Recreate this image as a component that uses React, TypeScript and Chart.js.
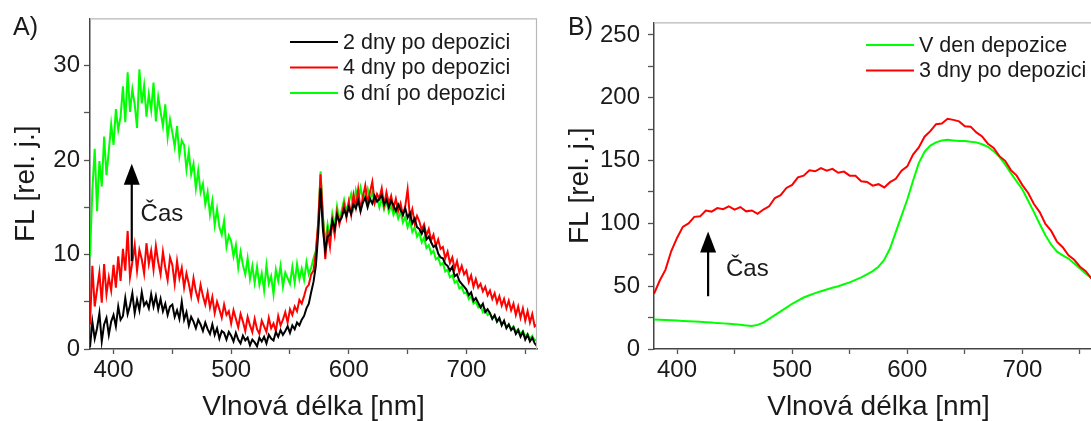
import React, { useEffect, useRef } from "react";
import { Chart, registerables } from "chart.js";

Chart.register(...registerables);

const FONT = '"Liberation Sans", Arial, Helvetica, sans-serif';

// ---------- Panel A ----------
const waveStartA = 380;
const waveStepA = 2;
const labelsA = ["2 dny po depozici", "4 dny po depozici", "6 dní po depozici"];
const colorsA = ["#000000", "#ff0000", "#00ff00"];

const dny2 = [
  0.2, 2.9, 1.1, 2.2, 3.8, 0.8, 2.6, 3.3, 1.5, 2.9,
  3.6, 2.4, 4.5, 3.1, 3.5, 5.4, 3.7, 4.6, 5.9, 3.8,
  5.2, 4.1, 6.0, 4.6, 5.0, 4.3, 5.8, 4.5, 5.6, 4.2,
  5.3, 4.0, 4.8, 3.6, 4.5, 4.7, 3.4, 4.1, 3.2, 5.0,
  3.1, 3.9, 2.5, 3.4, 2.9, 2.2, 3.1, 2.6, 1.9, 2.8,
  2.1, 1.6, 2.6, 1.5, 2.2, 1.1, 1.9, 1.7, 1.0, 1.8,
  1.4, 0.8, 1.7, 1.0, 0.6, 1.4, 0.9, 1.2, 0.4, 1.0,
  0.7, 0.3, 1.2, 0.8, 1.3, 0.6, 1.5, 1.1, 0.9, 1.8,
  1.3, 2.0, 1.5, 1.9, 2.4, 1.7, 2.5, 2.1, 2.8, 2.5,
  3.1, 3.5, 4.3, 4.8, 6.0, 7.1, 8.8, 12.2, 17.0, 12.6,
  10.4, 11.9, 12.1, 13.6, 12.7, 14.2, 13.5, 13.9, 14.8, 14.1,
  15.0, 14.3, 15.3, 14.9, 15.7, 14.6, 15.5, 16.0, 15.0, 15.9,
  15.4, 16.2, 15.6, 15.9, 16.3, 15.3, 15.8, 15.0, 15.7, 15.2,
  14.6, 15.3, 14.7, 14.2, 14.9, 13.9, 14.4, 13.3, 13.8, 12.9,
  12.7, 12.2, 12.8, 11.6, 11.9, 11.3, 10.8, 11.0, 10.1, 9.7,
  9.6, 9.0, 8.8, 8.3, 8.7, 7.7, 7.9, 7.2, 6.9, 6.6,
  6.3, 5.7, 6.0, 5.1, 5.4, 4.9, 4.4, 4.8, 3.9, 4.2,
  3.8, 3.2, 3.6, 2.9, 3.3, 2.5, 3.0, 2.2, 2.6, 2.0,
  2.3, 1.6, 2.0, 1.3, 1.8, 1.0, 1.5, 0.8, 1.2, 0.6,
  0.3,
];

const dny4 = [
  2.6, 8.8, 4.5, 6.3, 8.1, 4.9, 9.0, 5.8, 7.6, 6.2,
  8.9, 6.5, 9.8, 7.2, 10.6, 8.3, 12.5, 7.6, 9.2, 11.0,
  8.3, 10.5, 9.5, 8.0, 11.2, 9.0, 10.4, 8.4, 10.9, 9.2,
  7.9, 10.3, 8.6, 7.3, 9.7, 8.9, 6.9, 9.3, 7.5, 8.6,
  6.5, 8.0, 6.9, 5.6, 7.5, 6.1, 5.2, 6.8, 5.6, 4.7,
  6.0, 4.4, 5.5, 3.8, 5.0, 4.2, 3.3, 4.7, 3.6, 4.0,
  2.7, 4.1, 3.2, 2.3, 3.7, 2.9, 1.9, 3.4, 2.5, 1.8,
  3.2, 2.1, 1.6, 3.0, 2.4, 1.8, 3.3, 2.2, 2.7, 1.9,
  3.5, 2.5, 3.1, 3.9, 2.8, 4.2, 3.6, 4.5, 4.0, 5.2,
  4.8, 5.6, 6.5, 6.8, 7.9, 8.3, 10.2, 13.4, 18.5, 14.0,
  9.5, 12.4, 10.8, 13.6, 12.1, 14.5, 13.2, 14.2, 15.3, 13.9,
  15.6, 14.2, 16.3, 15.0, 16.9, 14.7, 16.1, 17.3, 15.4, 16.6,
  17.7, 15.5, 16.4, 15.9, 17.0, 15.2, 16.6, 15.4, 16.2, 14.9,
  15.9, 14.6, 15.4, 14.2, 15.1, 16.9, 13.9, 14.8, 13.3, 14.1,
  13.5, 12.6, 13.2, 12.0, 12.7, 11.5, 12.1, 10.9, 11.6, 10.6,
  10.8, 9.6, 10.3, 9.1, 9.7, 8.5, 9.3, 8.1, 8.8, 7.9,
  8.3, 7.1, 7.8, 6.6, 7.4, 6.5, 6.9, 6.1, 6.6, 5.7,
  6.2, 5.3, 5.9, 4.9, 5.6, 4.6, 5.3, 4.3, 5.1, 4.1,
  4.8, 3.6, 4.5, 3.3, 4.3, 3.0, 4.0, 2.8, 3.7, 2.4,
  2.6,
];

const dni6 = [
  9.8, 16.8, 21.2, 14.6, 19.9, 17.2, 22.5, 18.4, 21.0, 23.8,
  21.6, 25.4, 23.2, 24.6, 27.8, 24.0, 29.3, 25.1, 27.5, 25.9,
  23.4, 29.6, 26.0, 27.9, 24.6, 27.0, 25.3, 28.2, 24.1, 26.7,
  25.1, 23.6, 25.9, 22.4, 24.3, 22.9, 21.4, 23.6, 20.5, 22.1,
  21.6, 19.0, 20.9, 18.5, 19.6, 17.0, 18.9, 16.6, 17.5, 15.3,
  16.6, 14.2, 15.7, 13.1, 14.8, 12.9, 12.1, 13.6, 10.8, 12.0,
  11.4, 9.8, 11.0, 8.6, 10.3, 8.9, 7.9, 9.6, 7.4, 8.8,
  7.0, 8.7, 6.8, 8.0, 6.2, 8.9, 6.9, 7.7, 5.8, 8.4,
  7.2, 8.8, 6.6, 8.1, 7.5, 6.9, 8.7, 7.0, 9.0, 7.4,
  8.5, 7.3, 9.2, 7.9, 8.6, 9.6, 10.4, 13.2, 18.8, 14.1,
  11.1, 13.2, 11.9, 14.3, 13.0, 15.1, 13.6, 14.7, 15.8, 14.6,
  15.5, 16.4, 15.0, 16.8, 15.7, 17.1, 15.9, 16.3, 17.0, 15.8,
  16.6, 15.4, 16.1, 15.0, 16.0, 14.8, 15.7, 14.5, 15.2, 14.2,
  14.8, 13.8, 14.5, 13.4, 14.0, 12.9, 13.6, 12.4, 12.9, 11.9,
  12.3, 11.3, 11.8, 10.7, 11.0, 10.1, 10.4, 9.5, 9.7, 8.9,
  9.1, 8.2, 8.4, 7.6, 7.8, 7.0, 7.2, 6.4, 6.6, 5.9,
  6.0, 5.3, 5.6, 4.8, 5.0, 4.4, 4.6, 3.9, 4.2, 3.6,
  3.8, 3.2, 3.5, 2.9, 3.2, 2.6, 2.9, 2.3, 2.6, 2.1,
  2.4, 1.8, 2.1, 1.6, 1.9, 1.3, 1.6, 1.1, 1.4, 0.9,
  1.0,
];

const xTicksA = [400, 450, 500, 550, 600, 650, 700, 750];
const xLabeledA = [400, 500, 600, 700];
const yTicksA = [0, 5, 10, 15, 20, 25, 30];
const yLabeledA = [0, 10, 20, 30];

// ---------- Panel B ----------
const waveStartB = 380;
const waveStepB = 5;
const labelsB = ["V den depozice", "3 dny po depozici"];
const colorsB = ["#00ff00", "#ff0000"];

const denDepozice = [
  23.5, 23.2, 23.0, 22.8, 22.6, 22.3, 22.0, 21.8, 21.6, 21.3,
  21.0, 20.6, 20.4, 20.1, 19.8, 19.3, 18.8, 18.3, 19.2, 21.0,
  24.0, 27.0, 30.0, 33.0, 36.0, 38.5, 41.0, 42.8, 44.5, 46.0,
  47.3, 48.7, 50.0, 51.5, 53.0, 55.0, 57.0, 59.5, 62.0, 65.5,
  71.0, 80.0, 93.0, 106.0, 119.0, 134.0, 148.0, 157.0, 162.0, 164.5,
  166.0, 166.5, 166.0, 165.5, 165.5, 165.0, 164.5, 163.0, 161.0, 157.5,
  153.0, 147.0, 140.0, 133.5, 127.0, 118.0, 109.0, 99.5, 90.5, 83.0,
  77.5, 74.5, 72.0, 68.0, 64.0, 60.0, 56.5,
];

const dny3 = [
  44.0, 54.5, 63.2, 78.0, 88.4, 97.2, 100.0, 105.2, 105.6, 110.2,
  109.4, 112.2, 111.3, 113.5, 111.0, 113.0, 109.6, 110.3, 107.6, 111.0,
  113.6, 120.2, 122.5, 128.2, 130.6, 136.7, 138.0, 142.2, 141.5, 144.0,
  142.0, 143.4, 140.3, 141.2, 138.0, 137.9, 133.5, 133.0, 130.0, 131.2,
  128.6, 132.8, 135.5, 142.0, 145.4, 154.8, 160.5, 169.0, 173.4, 179.0,
  179.5, 183.3, 182.4, 181.2, 177.4, 177.0, 172.4, 169.2, 163.4, 160.0,
  153.5, 149.8, 142.4, 138.0, 130.5, 124.2, 115.4, 109.0, 99.5, 94.0,
  85.5, 81.0, 74.5, 71.0, 65.5, 62.0, 56.0,
];

const xTicksB = [400, 450, 500, 550, 600, 650, 700, 750];
const xLabeledB = [400, 500, 600, 700];
const yTicksB = [0, 25, 50, 75, 100, 125, 150, 175, 200, 225, 250];
const yLabeledB = [0, 50, 100, 150, 200, 250];

// ---------- helpers ----------
function toPoints(start: number, step: number, ys: number[]) {
  return ys.map((y, i) => ({ x: start + i * step, y }));
}

type Cfg = {
  xMin: number; xMax: number; yMin: number; yMax: number;
  xTicks: number[]; xLabeled: number[]; yTicks: number[]; yLabeled: number[];
  padTop: number; padRight: number; yAxisWidth: number; xAxisHeight: number;
  yTitlePad: number; yTickPad: number;
  legend: { x: number; y: number; gap: number; entries: { label: string; color: string }[] };
  letter: { text: string; x: number; y: number };
  arrow: { x: number; yFrom: number; yTo: number };
  cas: { x: number; y: number };
};

function decorPlugin(cfg: Cfg) {
  return {
    id: "decor",
    afterDraw(chart: any) {
      const { ctx, chartArea: a, scales } = chart;
      ctx.save();
      ctx.strokeStyle = "#b8b8b8";
      ctx.lineWidth = 1.2;
      ctx.beginPath();
      ctx.moveTo(a.left, a.top + 0.5);
      ctx.lineTo(a.right - 0.5, a.top + 0.5);
      ctx.lineTo(a.right - 0.5, a.bottom);
      ctx.stroke();

      ctx.font = `21.5px ${FONT}`;
      ctx.textBaseline = "middle";
      ctx.textAlign = "left";
      cfg.legend.entries.forEach((e, i) => {
        const y = cfg.legend.y + i * cfg.legend.gap;
        ctx.strokeStyle = e.color;
        ctx.lineWidth = 2;
        ctx.beginPath();
        ctx.moveTo(cfg.legend.x, y);
        ctx.lineTo(cfg.legend.x + 48, y);
        ctx.stroke();
        ctx.fillStyle = "#1a1a1a";
        ctx.fillText(e.label, cfg.legend.x + 53, y + 1);
      });

      ctx.font = `25px ${FONT}`;
      ctx.fillStyle = "#1a1a1a";
      ctx.fillText(cfg.letter.text, cfg.letter.x, cfg.letter.y);

      const ax = scales.x.getPixelForValue(cfg.arrow.x);
      const y0 = scales.y.getPixelForValue(cfg.arrow.yFrom);
      const y1 = scales.y.getPixelForValue(cfg.arrow.yTo);
      ctx.strokeStyle = "#000";
      ctx.fillStyle = "#000";
      ctx.lineWidth = 2.2;
      ctx.beginPath();
      ctx.moveTo(ax, y0);
      ctx.lineTo(ax, y1 + 16);
      ctx.stroke();
      ctx.beginPath();
      ctx.moveTo(ax, y1);
      ctx.lineTo(ax - 8, y1 + 21);
      ctx.lineTo(ax + 8, y1 + 21);
      ctx.closePath();
      ctx.fill();

      ctx.font = `24px ${FONT}`;
      ctx.fillStyle = "#1a1a1a";
      ctx.fillText("Čas", scales.x.getPixelForValue(cfg.cas.x), scales.y.getPixelForValue(cfg.cas.y));
      ctx.restore();
    },
  };
}

function makeOptions(cfg: Cfg) {
  const tickFont = { family: FONT, size: 24 };
  const titleFont = { family: FONT, size: 28, lineHeight: 1 };
  return {
    animation: false,
    responsive: false,
    maintainAspectRatio: false,
    events: [],
    layout: { padding: { top: cfg.padTop, right: cfg.padRight, left: 0, bottom: 0 } },
    plugins: { legend: { display: false }, tooltip: { enabled: false } },
    elements: { point: { radius: 0 }, line: { tension: 0 } },
    scales: {
      x: {
        type: "linear",
        min: cfg.xMin,
        max: cfg.xMax,
        afterBuildTicks: (s: any) => {
          s.ticks = cfg.xTicks.map((v) => ({ value: v }));
        },
        afterFit: (s: any) => {
          s.height = cfg.xAxisHeight;
        },
        ticks: {
          autoSkip: false,
          maxRotation: 0,
          font: tickFont,
          color: "#1a1a1a",
          padding: 2,
          callback: (v: number) => (cfg.xLabeled.includes(v) ? String(v) : ""),
        },
        grid: { drawOnChartArea: false, drawTicks: true, tickLength: 5, tickColor: "#555", tickWidth: 1.3 },
        border: { display: true, color: "#444", width: 1.5 },
        title: {
          display: true,
          text: "Vlnová délka [nm]",
          font: titleFont,
          color: "#1a1a1a",
          padding: { top: 0, bottom: 0 },
        },
      },
      y: {
        type: "linear",
        min: cfg.yMin,
        max: cfg.yMax,
        afterBuildTicks: (s: any) => {
          s.ticks = cfg.yTicks.map((v) => ({ value: v }));
        },
        afterFit: (s: any) => {
          s.width = cfg.yAxisWidth;
        },
        ticks: {
          autoSkip: false,
          font: tickFont,
          color: "#1a1a1a",
          padding: cfg.yTickPad,
          callback: (v: number) => (cfg.yLabeled.includes(v) ? String(v) : ""),
        },
        grid: { drawOnChartArea: false, drawTicks: true, tickLength: 6, tickColor: "#555", tickWidth: 1.3 },
        border: { display: true, color: "#444", width: 1.5 },
        title: {
          display: true,
          text: "FL [rel. j.]",
          font: titleFont,
          color: "#1a1a1a",
          padding: { top: cfg.yTitlePad, bottom: 0 },
        },
      },
    },
  };
}

function Panel(props: { left: number; width: number; datasets: any[]; cfg: Cfg }) {
  const ref = useRef<HTMLCanvasElement | null>(null);
  useEffect(() => {
    if (!ref.current) return;
    const chart = new Chart(ref.current, {
      type: "line",
      data: { datasets: props.datasets },
      options: makeOptions(props.cfg) as any,
      plugins: [decorPlugin(props.cfg)],
    });
    return () => chart.destroy();
  }, []);
  return (
    <canvas
      ref={ref}
      width={props.width}
      height={421}
      style={{ position: "absolute", left: props.left, top: 0, width: props.width, height: 421, display: "block" }}
    />
  );
}

export default function App() {
  const dsA = [
    { label: labelsA[0], data: toPoints(waveStartA, waveStepA, dny2), borderColor: colorsA[0], borderWidth: 2, order: 1 },
    { label: labelsA[1], data: toPoints(waveStartA, waveStepA, dny4), borderColor: colorsA[1], borderWidth: 2, order: 2 },
    { label: labelsA[2], data: toPoints(waveStartA, waveStepA, dni6), borderColor: colorsA[2], borderWidth: 2, order: 3 },
  ].map((d) => ({ ...d, pointRadius: 0, fill: false }));

  const dsB = [
    { label: labelsB[0], data: toPoints(waveStartB, waveStepB, denDepozice), borderColor: colorsB[0], borderWidth: 2, order: 2 },
    { label: labelsB[1], data: toPoints(waveStartB, waveStepB, dny3), borderColor: colorsB[1], borderWidth: 2, order: 1 },
  ].map((d) => ({ ...d, pointRadius: 0, fill: false }));

  const cfgA: Cfg = {
    xMin: 380, xMax: 760, yMin: 0, yMax: 35,
    xTicks: xTicksA, xLabeled: xLabeledA, yTicks: yTicksA, yLabeled: yLabeledA,
    padTop: 16, padRight: 8, yAxisWidth: 90, xAxisHeight: 72,
    yTitlePad: 12, yTickPad: 4,
    legend: { x: 290, y: 42, gap: 25.5, entries: labelsA.map((l, i) => ({ label: l, color: colorsA[i] })) },
    letter: { text: "A)", x: 13, y: 28 },
    arrow: { x: 415.5, yFrom: 9.3, yTo: 19.6 },
    cas: { x: 423, y: 14.3 },
  };

  const cfgB: Cfg = {
    xMin: 380, xMax: 770, yMin: 0, yMax: 260,
    xTicks: xTicksB, xLabeled: xLabeledB, yTicks: yTicksB, yLabeled: yLabeledB,
    padTop: 18, padRight: 0, yAxisWidth: 109, xAxisHeight: 72,
    yTitlePad: 21, yTickPad: 8,
    legend: { x: 321, y: 45, gap: 25.5, entries: labelsB.map((l, i) => ({ label: l, color: colorsB[i] })) },
    letter: { text: "B)", x: 23, y: 28 },
    arrow: { x: 427, yFrom: 42, yTo: 93.5 },
    cas: { x: 442.5, y: 63.6 },
  };

  return (
    <div style={{ position: "absolute", left: 0, top: 0, width: 1091, height: 421, overflow: "hidden", background: "#fff" }}>
      <Panel left={0} width={545} datasets={dsA} cfg={cfgA} />
      <Panel left={545} width={558} datasets={dsB} cfg={cfgB} />
    </div>
  );
}
